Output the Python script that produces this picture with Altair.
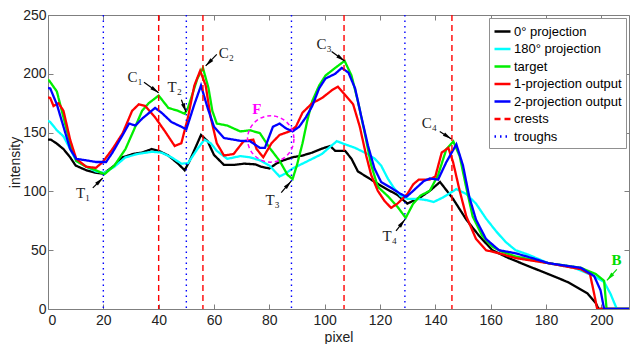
import math
import altair as alt
import pandas as pd

# ---------------- data ----------------
black_x = [0, 1, 3, 5.6, 8, 10, 13.8, 17, 20, 24, 27, 31, 34, 37.5, 40, 43.5, 47, 49.4, 51, 54, 55.3, 57.7, 60, 63.6, 67, 71, 75, 77, 80, 82.5, 85, 88.4, 92, 95.5, 99, 102, 103.8, 107.4, 109.7, 112, 116.8, 121.6, 126.3, 129.9, 134.6, 138, 141.7, 146.4, 151.2, 155.9, 160.6, 166.5, 173.6, 180.8, 187.9, 195, 198, 199, 210]
black_y = [144, 144, 141, 136, 129, 122, 118, 116, 115, 122, 129, 132, 133, 136, 134.5, 130.5, 123.6, 118, 125, 141, 148, 142.7, 131, 122.5, 122.5, 123.6, 123, 121, 119.5, 123.6, 126.4, 129, 130.5, 133, 136.4, 138.6, 134.5, 134.5, 127.7, 117, 110, 103, 97, 89.6, 95, 100.5, 108, 93.7, 76, 62, 50, 43.3, 36.5, 29.7, 22.9, 13.3, 5, 0, 0]

cyan_x = [0, 0.8, 3.2, 5.6, 8, 10.2, 13.8, 17.3, 20.4, 24, 28, 32.8, 37.5, 41, 44.6, 48.2, 50.6, 54, 56.5, 58.8, 61, 64.8, 69.5, 73, 76.6, 80, 83.7, 86, 88.4, 92, 95.5, 99, 101.5, 104.4, 107.4, 111, 114.5, 118, 120.4, 122.8, 125, 127.5, 129.9, 133.4, 137, 139.4, 142.9, 147.6, 151.2, 154.7, 158.3, 162, 165.4, 169, 173.8, 180.8, 190.2, 197.4, 201, 203.3, 205.6, 210]
cyan_y = [160, 159, 152, 146.8, 136, 126, 121, 117, 115.7, 121, 129, 132, 133.7, 133, 129, 123.6, 124, 136, 144, 141, 134.5, 127.7, 130, 129, 126.4, 122, 112.7, 115.4, 119.5, 123.6, 127.7, 131.8, 137, 142.7, 140, 137, 133, 128, 122, 111, 103, 96, 93.7, 93.7, 92.5, 91, 95, 102, 97.8, 89.6, 77, 66, 57, 50, 46, 39, 35, 28, 23, 13, 0, 0]

green_x = [0, 0.5, 3.2, 5.6, 8, 10.2, 13.8, 17.3, 20.4, 24, 28, 31, 34, 36.4, 40, 43.5, 47, 49.4, 50.6, 54, 56, 58, 59.4, 61, 64.8, 69.5, 73, 76.6, 80.1, 83.7, 86.6, 88.4, 90, 92, 93.7, 95.5, 98, 100.3, 103.8, 107.2, 109.7, 112, 114.5, 116.8, 119.2, 122.8, 126.3, 129.3, 132, 134.6, 138, 141, 144, 146.5, 148.8, 151.2, 153.5, 157, 160.6, 164, 169, 180.8, 192.6, 198, 201, 201.9, 210]
green_y = [195, 194, 185, 163, 141, 126, 121, 118, 114.6, 122, 136, 152, 168.5, 175, 181.5, 171, 168.5, 166, 171, 196, 205, 188, 168.5, 157.7, 156, 151, 152, 149.5, 137, 126, 114, 110.5, 122.5, 141, 160, 176.7, 190, 198.5, 205, 211, 198.5, 176.7, 149.5, 122.5, 104, 96, 87, 77.5, 89.6, 96.4, 100.5, 114, 136, 142.5, 130, 103, 78.7, 62, 53, 48.8, 44.7, 39, 35, 29.7, 24, 0, 0]

red_x = [0, 0.8, 2, 3.8, 5.6, 8, 10.2, 13.8, 17.3, 19.8, 23.3, 27, 30.4, 32.8, 35.2, 38.7, 42.3, 45.8, 48.2, 50.6, 52.9, 55, 57, 58.8, 61, 63.6, 67.1, 70.7, 74.2, 75.4, 77.8, 80.8, 83.7, 87.3, 89.6, 92, 95.5, 99.1, 102.6, 104.8, 107.4, 110.3, 112.7, 115, 116.8, 119.2, 121.6, 124, 126.3, 129.9, 132, 134, 138, 140, 142.3, 144.7, 146.4, 148.8, 151.2, 154.7, 158.3, 163, 169, 180.8, 192.6, 195.9, 197.4, 198.5, 210]
red_y = [180, 179.5, 172.6, 175, 168.5, 144, 127.7, 121, 120, 125, 136, 149.5, 168.5, 174, 172.6, 163, 151, 138.6, 141, 163, 190, 202.6, 190, 163, 141, 130.5, 131.8, 142.7, 144, 136, 129, 141, 148, 151, 155, 167, 175, 179.5, 186, 189, 182, 174, 155, 130.5, 114, 100.5, 92, 86, 89.6, 97.8, 106, 110, 110, 112.7, 133, 137, 125, 100.5, 78.7, 59.6, 50, 47.4, 43.3, 39, 33.8, 29.7, 13, 0, 0]

blue_x = [0, 0.8, 3.2, 5.6, 8, 10.2, 13.8, 17.3, 21, 23.3, 27, 29.3, 31.6, 34, 38.7, 41, 44.6, 48.2, 50, 52.9, 55.3, 57.7, 60, 63.6, 69.5, 73, 76.6, 78.4, 81.3, 83.7, 86, 88.4, 90.8, 93.2, 95.5, 98, 100.3, 103.8, 106.2, 108.6, 111, 113.3, 115.7, 118, 120.4, 124, 127.5, 129.6, 132, 135.8, 138, 141, 144, 147.6, 150, 152.3, 154.7, 158.3, 163, 169, 175, 180.8, 192.6, 197.4, 199.7, 201, 210]
blue_y = [188, 187.6, 174, 155, 136, 127.7, 126.4, 125, 125, 133, 148, 157.7, 156, 161.8, 171, 167, 159, 155, 152.8, 174, 190, 171, 155, 145.4, 143, 142.7, 137, 137, 155, 157.7, 153.6, 151, 155, 163, 172.6, 187.6, 196, 200, 205, 201, 187.6, 163, 138.6, 119.5, 108, 103, 97.8, 95.5, 100.5, 108.7, 111, 110, 125, 140, 122, 95, 76, 59.6, 50, 47.4, 43.3, 39, 35, 28, 16, 0, 0]

series_names = ["0° projection", "180° projection", "target",
                "1-projection output", "2-projection output", "crests", "troughs"]
series_colors = ["#000000", "#00FFFF", "#00EE00", "#FF0000", "#0000FF", "#FF0000", "#0000FF"]
series_dash = [[1, 0], [1, 0], [1, 0], [1, 0], [1, 0], [6, 4], [1.5, 4]]

crest_x = [40, 56, 107, 146]
trough_x = [20, 50, 88, 129]

# annotations (data units)
ann_text = ["C₁", "C₂", "C₃", "C₄", "T₁", "T₂", "T₃", "T₄"]
ann_text_x = [31.5, 64.5, 99.8, 137.8, 12.7, 45.8, 81.2, 123.5]
ann_text_y = [197.5, 218, 225, 158.5, 98.5, 188.5, 93, 62]
ann_tail_x = [34.7, 61, 102.5, 141.6, 16.2, 48.2, 84.3, 125.8]
ann_tail_y = [192.8, 216.5, 219, 151, 103, 178, 99, 66.4]
ann_head_x = [40, 57, 107.2, 145.8, 19.8, 49.9, 87.9, 129]
ann_head_y = [183.8, 206.7, 210.8, 144.6, 111.4, 167.5, 108.7, 76]

b_text, b_text_x, b_text_y = ["B"], [205.5], [42]
b_tail_x, b_tail_y, b_head_x, b_head_y = [205.6], [33.7], [202], [24.3]

f_text, f_text_x, f_text_y = ["F"], [75.5], [170]
f_circle_x, f_circle_y = [80.5], [144.6]

X_DOMAIN = [0, 210]
Y_DOMAIN = [0, 250]

# ---------------- tables ----------------
rows = []
for name, xs, ys in zip(series_names[:5],
                        [black_x, cyan_x, green_x, red_x, blue_x],
                        [black_y, cyan_y, green_y, red_y, blue_y]):
    for x, y in zip(xs, ys):
        rows.append({"x": x, "y": y, "series": name})
df_lines = pd.DataFrame(rows)

df_rules = pd.DataFrame(
    [{"x": v, "series": "crests"} for v in crest_x] +
    [{"x": v, "series": "troughs"} for v in trough_x])

# approximate pixel scale (for arrow-head rotation only)
KX, KY = 585 / 210, 295 / 250


def arrow_df(tx, ty, hx, hy):
    recs = []
    for a, b, c, d in zip(tx, ty, hx, hy):
        dx = (c - a) * KX
        dy = -(d - b) * KY
        ang = math.degrees(math.atan2(dx, -dy)) % 360
        recs.append({"tx": a, "ty": b, "hx": c, "hy": d, "ang": ang})
    return pd.DataFrame(recs)


df_arr = arrow_df(ann_tail_x, ann_tail_y, ann_head_x, ann_head_y)
df_arr_b = arrow_df(b_tail_x, b_tail_y, b_head_x, b_head_y)
df_txt = pd.DataFrame({"x": ann_text_x, "y": ann_text_y, "t": ann_text})
df_b = pd.DataFrame({"x": b_text_x, "y": b_text_y, "t": b_text})
df_f = pd.DataFrame({"x": f_text_x, "y": f_text_y, "t": f_text})
df_fc = pd.DataFrame({"x": f_circle_x, "y": f_circle_y})

# ---------------- encodings ----------------
xs = alt.Scale(domain=X_DOMAIN, nice=False, zero=False)
ys = alt.Scale(domain=Y_DOMAIN, nice=False, zero=False)
cscale = alt.Scale(domain=series_names, range=series_colors)
dscale = alt.Scale(domain=series_names, range=series_dash)
leg = alt.Legend(title=None)

AX = "#7f7f7f"
x_main = alt.Axis(values=list(range(0, 201, 20)), title="pixel", grid=False,
                  domain=False, offset=-5, tickSize=5, tickColor=AX,
                  labelPadding=4, titlePadding=3)
y_main = alt.Axis(values=list(range(0, 251, 50)), title="intensity", grid=False,
                  domain=False, offset=-5, tickSize=5, tickColor=AX,
                  labelPadding=2, titlePadding=0)
x_top = alt.Axis(values=list(range(0, 201, 20)), orient="top", title=None, labels=False,
                 grid=False, domain=False, offset=-5, tickSize=5, tickColor=AX)
y_right = alt.Axis(values=list(range(0, 251, 50)), orient="right", title=None, labels=False,
                   grid=False, domain=False, offset=-5, tickSize=5, tickColor=AX)


def color_enc():
    return alt.Color("series:N", scale=cscale, legend=leg)


def dash_enc():
    return alt.StrokeDash("series:N", scale=dscale, legend=leg)


layers = []

for i, name in enumerate(series_names[:5]):
    sub = df_lines[df_lines["series"] == name]
    layers.append(
        alt.Chart(sub).mark_line(strokeWidth=2.3, clip=True).encode(
            x=alt.X("x:Q", scale=xs, axis=x_main if i == 0 else None),
            y=alt.Y("y:Q", scale=ys, axis=y_main if i == 0 else None),
            color=color_enc(),
            strokeDash=dash_enc(),
        )
    )

rules = alt.Chart(df_rules).mark_rule(strokeWidth=1.4).encode(
    x=alt.X("x:Q", scale=xs, axis=x_top),
    color=color_enc(),
    strokeDash=dash_enc(),
)
layers.append(rules)

circle = alt.Chart(df_fc).mark_point(shape="circle", filled=False, size=2150,
                                     color="#FF00FF", strokeWidth=1.5,
                                     strokeDash=[4, 3], opacity=1).encode(
    x=alt.X("x:Q", scale=xs, axis=None),
    y=alt.Y("y:Q", scale=ys, axis=y_right),
)
layers.append(circle)

HEAD = "M0,0L0.5,2.2L-0.5,2.2Z"


def arrows(df, col):
    shaft = alt.Chart(df).mark_rule(color=col, strokeWidth=1.2).encode(
        x=alt.X("tx:Q", scale=xs, axis=None), y=alt.Y("ty:Q", scale=ys, axis=None),
        x2="hx:Q", y2="hy:Q")
    head = alt.Chart(df).mark_point(shape=HEAD, filled=True, size=64, color=col,
                                    opacity=1).encode(
        x=alt.X("hx:Q", scale=xs, axis=None), y=alt.Y("hy:Q", scale=ys, axis=None),
        angle=alt.Angle("ang:Q", scale=None))
    return [shaft, head]


layers += arrows(df_arr, "black")
layers += arrows(df_arr_b, "#00DD00")


def texts(df, col, weight, size):
    return alt.Chart(df).mark_text(font="Liberation Serif", fontSize=size, color=col,
                                   fontWeight=weight, align="center", baseline="middle").encode(
        x=alt.X("x:Q", scale=xs, axis=None), y=alt.Y("y:Q", scale=ys, axis=None),
        text="t:N")


layers.append(texts(df_txt, "#222222", "normal", 15))
layers.append(texts(df_b, "#00DD00", "bold", 15))
layers.append(texts(df_f, "#FF00FF", "bold", 15))

chart = alt.layer(*layers).resolve_axis(x="independent", y="independent").properties(
    width=624, height=336,
    autosize=alt.AutoSizeParams(type="fit", contains="padding"),
    padding={"left": 0, "right": 2, "top": 0, "bottom": 0},
).configure_view(
    stroke=AX, strokeWidth=1
).configure_axis(
    labelFont="Liberation Sans", labelFontSize=14, labelColor="#222222",
    titleFont="Liberation Sans", titleFontSize=14, titleFontWeight="normal",
    titleColor="#222222",
).configure_legend(
    orient="top-right", offset=3, padding=4, fillColor="white", strokeColor="#909090",
    labelFont="Liberation Sans", labelFontSize=13, labelColor="black",
    symbolType="stroke", symbolSize=256, symbolStrokeWidth=2.5, rowPadding=0.5,
    labelOffset=2, cornerRadius=0,
)

chart.save("out.html", embed_options={"renderer": "svg", "actions": False})
